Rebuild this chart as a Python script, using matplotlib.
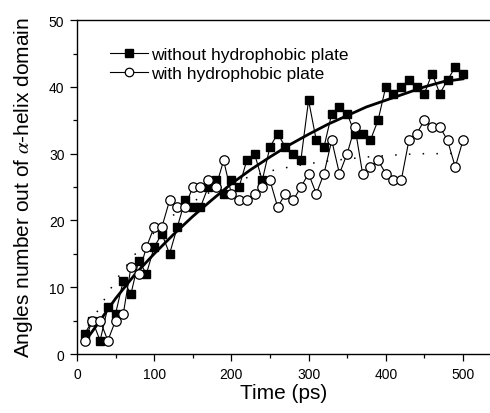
import numpy as np
import matplotlib
matplotlib.use("Agg")
import matplotlib.pyplot as plt
from matplotlib.ticker import MultipleLocator

plt.rcParams['font.family'] = ['Liberation Sans', 'DejaVu Sans']
plt.rcParams['mathtext.fontset'] = 'stix'

# time points (ps)
time_ps = [10, 20, 30, 40, 50, 60, 70, 80, 90, 100,
           110, 120, 130, 140, 150, 160, 170, 180, 190, 200,
           210, 220, 230, 240, 250, 260, 270, 280, 290, 300,
           310, 320, 330, 340, 350, 360, 370, 380, 390, 400,
           410, 420, 430, 440, 450, 460, 470, 480, 490, 500]

without_plate = [3, 5, 2, 7, 6, 11, 9, 14, 12, 16,
                 18, 15, 19, 23, 22, 22, 25, 26, 24, 26,
                 25, 29, 30, 26, 31, 33, 31, 30, 29, 38,
                 32, 31, 36, 37, 36, 33, 33, 32, 35, 40,
                 39, 40, 41, 40, 39, 42, 39, 41, 43, 42]

with_plate = [2, 5, 5, 2, 5, 6, 13, 12, 16, 19,
              19, 23, 22, 22, 25, 25, 26, 25, 29, 24,
              23, 23, 24, 25, 26, 22, 24, 23, 25, 27,
              24, 27, 32, 27, 30, 34, 27, 28, 29, 27,
              26, 26, 32, 33, 35, 34, 34, 32, 28, 32]

# fitted curves
fit_t = [10, 25, 50, 75, 100, 125, 150, 175, 200, 225, 250, 275, 300,
         325, 350, 375, 400, 425, 450, 475, 500]
fit_without = [1.8, 4.2, 8.3, 11.9, 15.0, 17.9, 20.6, 23.1, 25.5, 27.6, 29.5,
               31.3, 32.9, 34.4, 35.7, 37.0, 38.0, 39.0, 40.0, 40.8, 41.2]
fit_with = [2.6, 6.1, 11.0, 14.9, 18.2, 20.8, 22.8, 24.4, 25.6, 26.6, 27.4,
            28.0, 28.5, 28.9, 29.2, 29.5, 29.7, 29.9, 30.0, 30.0, 30.1]

fig = plt.figure(figsize=(4.9, 4.14), dpi=100)
ax = fig.add_axes([0.157, 0.1425, 0.843, 0.8065])

ax.plot(fit_t, fit_with, color='black', linestyle=(0, (1, 8)), linewidth=1.1)
ax.plot(fit_t, fit_without, color='black', linewidth=2.0)
ax.plot(time_ps, without_plate, color='black', linewidth=0.8, marker='s',
        markersize=6, markerfacecolor='black', markeredgecolor='black',
        label='without hydrophobic plate')
ax.plot(time_ps, with_plate, color='black', linewidth=0.8, marker='o',
        markersize=6.8, markerfacecolor='white', markeredgecolor='black',
        markeredgewidth=0.9, label='with hydrophobic plate')

ax.set_xlim(0, 535)
ax.set_ylim(0, 50)
ax.xaxis.set_major_locator(MultipleLocator(100))
ax.xaxis.set_minor_locator(MultipleLocator(50))
ax.yaxis.set_major_locator(MultipleLocator(10))
ax.yaxis.set_minor_locator(MultipleLocator(5))
ax.tick_params(which='major', direction='out', length=5, width=0.9, labelsize=10,
               top=False, right=False, pad=4)
ax.tick_params(which='minor', direction='out', length=3, width=0.9,
               top=False, right=False)
for s in ax.spines.values():
    s.set_linewidth(1.0)
ax.spines['right'].set_visible(False)

ax.set_xlabel('Time (ps)', fontsize=15, labelpad=2)
ax.set_ylabel(r'Angles number out of $\alpha$-helix domain', fontsize=15,
              labelpad=10)

ax.legend(loc='upper left', bbox_to_anchor=(0.05, 0.955), frameon=False,
          fontsize=12.5, handlelength=2.2, handletextpad=0.15, labelspacing=0.2,
          borderpad=0.2, markerscale=0.9)

fig.savefig('out.png', dpi=100)
